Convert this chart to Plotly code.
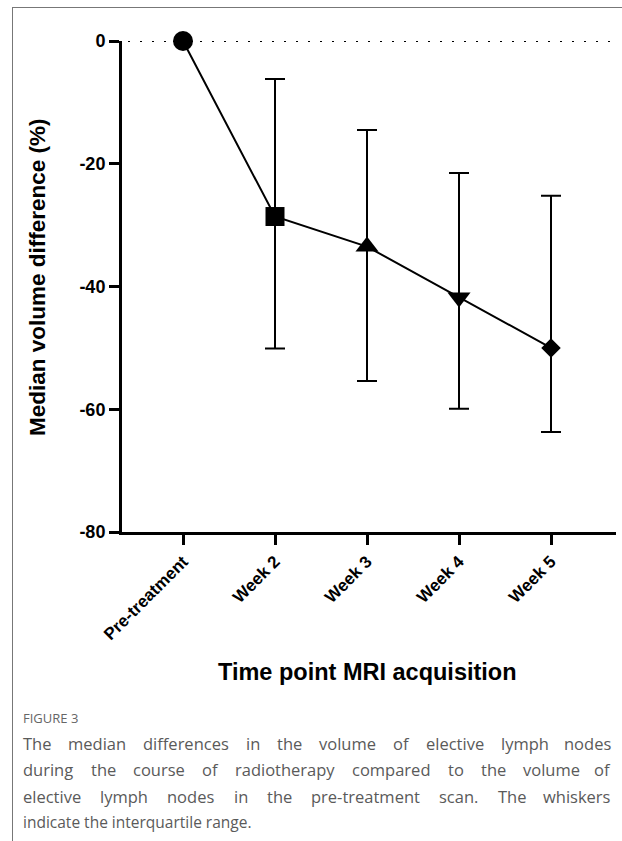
import plotly.graph_objects as go

# ---- data ----
categories = ["Pre-treatment", "Week 2", "Week 3", "Week 4", "Week 5"]
medians = [0, -28.6, -33.5, -41.8, -50.0]
upper_q = [0, -6.2, -14.5, -21.5, -25.2]
lower_q = [0, -50.1, -55.4, -59.9, -63.7]
symbols = ["circle", "square", "triangle-up", "triangle-down", "diamond"]
y_ticks = [0, -20, -40, -60, -80]

caption_title = "FIGURE 3"
caption_lines = [
    "The median differences in the volume of elective lymph nodes",
    "during the course of radiotherapy compared to the volume of",
    "elective lymph nodes in the pre-treatment scan. The whiskers",
    "indicate the interquartile range.",
]

# ---- layout geometry (pixels) ----
W, H = 622, 841
L, R, T, B = 122, 616, 41, 532


def px2x(px):
    return (px - L) / (R - L)


def py2y(py):
    return (B - py) / (B - T)


xs = list(range(len(categories)))
err_plus = [u - m for u, m in zip(upper_q, medians)]
err_minus = [m - l for m, l in zip(medians, lower_q)]
sizes = [20, 19, 20, 20, 15]

FONT = "Liberation Sans, Arial, sans-serif"
CAP_FONT = "Open Sans, sans-serif"

fig = go.Figure()
fig.add_trace(go.Scatter(
    x=xs, y=medians, mode="lines+markers",
    line=dict(color="black", width=2),
    marker=dict(symbol=symbols, size=sizes, color="black", opacity=1,
                line=dict(width=0)),
    error_y=dict(type="data", symmetric=False, array=err_plus,
                 arrayminus=err_minus, color="black", thickness=2, width=10),
    cliponaxis=False, showlegend=False, hoverinfo="skip",
))

shapes = [
    dict(type="line", xref="paper", yref="y", x0=px2x(128), x1=px2x(613),
         y0=0, y1=0, line=dict(color="black", width=2, dash="2px,10px"), layer="below"),
    dict(type="line", xref="paper", yref="paper", x0=px2x(12.5), x1=px2x(12.5),
         y0=py2y(7), y1=py2y(841), line=dict(color="#777777", width=1)),
    dict(type="line", xref="paper", yref="paper", x0=px2x(12), x1=px2x(622),
         y0=py2y(7.5), y1=py2y(7.5), line=dict(color="#777777", width=1)),
]

annotations = [
    dict(text="Median volume difference (%)", xref="paper", yref="paper",
         x=px2x(37.5), y=py2y(277.5), textangle=-90, showarrow=False,
         xanchor="center", yanchor="middle",
         font=dict(family=FONT, size=22.5, color="black", weight="bold")),
    dict(text="Time point MRI acquisition", xref="paper", yref="paper",
         x=px2x(367.5), y=py2y(672), showarrow=False,
         xanchor="center", yanchor="middle",
         font=dict(family=FONT, size=23.5, color="black", weight="bold")),
    dict(text=caption_title, xref="paper", yref="paper",
         x=px2x(21), y=py2y(718), showarrow=False,
         xanchor="left", yanchor="middle",
         font=dict(family=CAP_FONT, size=13, color="#666666")),
]

# approximate Open Sans advance widths (em) to justify caption lines
CW = {' ': .26, 'a': .556, 'b': .613, 'c': .48, 'd': .613, 'e': .561, 'f': .339,
      'g': .548, 'h': .618, 'i': .258, 'j': .258, 'k': .531, 'l': .258, 'm': .937,
      'n': .618, 'o': .604, 'p': .613, 'q': .613, 'r': .408, 's': .477, 't': .353,
      'u': .618, 'v': .5, 'w': .778, 'x': .519, 'y': .5, 'z': .468, 'T': .556,
      '-': .322, '.': .266}
CAP_SIZE = 15.5
JUST_SIZE = 16.5
LEFT_PX, RIGHT_PX = 22, 612
line_ys = [743, 769, 796, 822]
for idx, (txt, yy) in enumerate(zip(caption_lines, line_ys)):
    last = idx == len(caption_lines) - 1
    if last:
        annotations.append(dict(text=txt, xref="paper", yref="paper",
                                x=px2x(LEFT_PX - 1), y=py2y(yy), showarrow=False,
                                xanchor="left", yanchor="middle",
                                font=dict(family=CAP_FONT, size=CAP_SIZE, color="#5a5a5a")))
        continue
    cap_font = dict(family=CAP_FONT, size=JUST_SIZE, color="#5a5a5a")
    words = txt.split(" ")
    widths = [sum(CW.get(ch, .55) for ch in w) * JUST_SIZE for w in words]
    gap = (RIGHT_PX - LEFT_PX - sum(widths)) / (len(words) - 1)
    pos = LEFT_PX
    for j, (w, wd) in enumerate(zip(words, widths)):
        if j == len(words) - 1:
            annotations.append(dict(text=w, xref="paper", yref="paper",
                                    x=px2x(RIGHT_PX + 1), y=py2y(yy), showarrow=False,
                                    xanchor="right", yanchor="middle", font=cap_font))
        else:
            annotations.append(dict(text=w, xref="paper", yref="paper",
                                    x=px2x(pos - 1), y=py2y(yy), showarrow=False,
                                    xanchor="left", yanchor="middle", font=cap_font))
        pos += wd + gap

fig.update_layout(
    width=W, height=H,
    margin=dict(l=L, r=W - R, t=T, b=H - B, pad=0),
    paper_bgcolor="white", plot_bgcolor="white",
    shapes=shapes, annotations=annotations,
    xaxis=dict(
        range=[(L - 183) / 92, (R - 183) / 92],
        tickmode="array", tickvals=xs, ticktext=categories,
        tickangle=-45, ticks="outside", ticklen=10, tickwidth=3,
        tickcolor="black", showline=True, linewidth=3, linecolor="black",
        showgrid=False, zeroline=False,
        tickfont=dict(family=FONT, size=17, color="black", weight="bold"),
    ),
    yaxis=dict(
        range=[-80, 0], tickmode="array", tickvals=y_ticks,
        ticktext=[str(v) for v in y_ticks],
        ticks="outside", ticklen=10, tickwidth=3, tickcolor="black",
        showline=True, linewidth=3, linecolor="black",
        showgrid=False, zeroline=False,
        tickfont=dict(family=FONT, size=18, color="black", weight="bold"),
    ),
)

fig.write_html("out.html", config={"displayModeBar": False},
               post_script="document.body.style.margin='0';document.body.style.overflow='hidden';")
